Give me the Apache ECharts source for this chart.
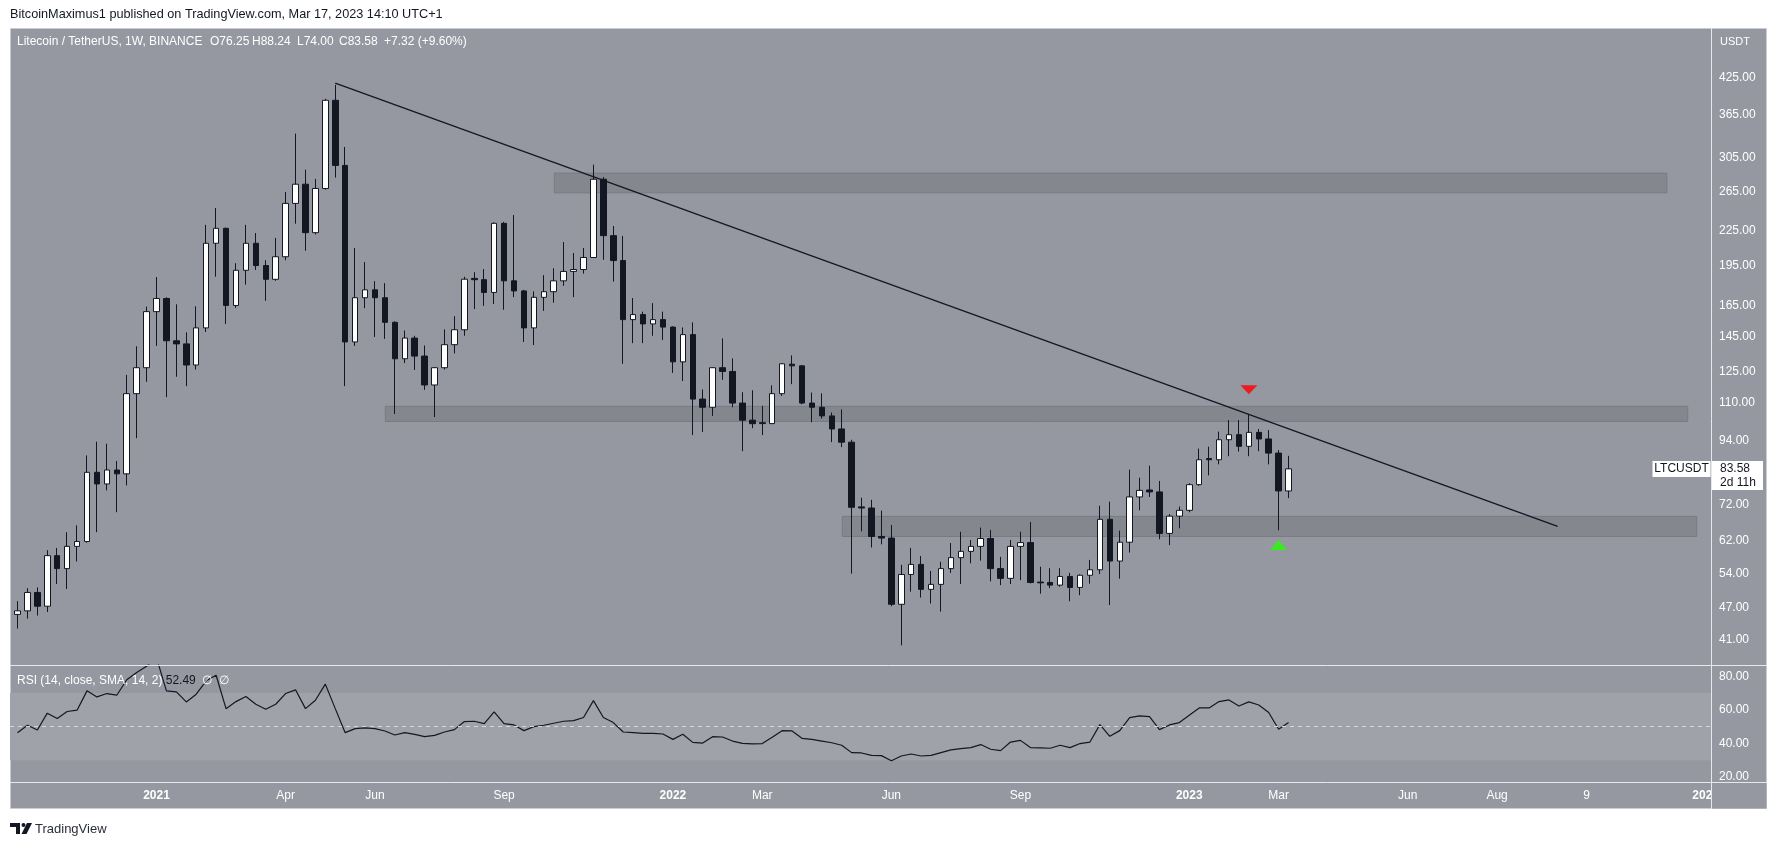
<!DOCTYPE html>
<html>
<head>
<meta charset="utf-8">
<script src="https://cdn.jsdelivr.net/npm/echarts@6/dist/echarts.min.js"></script>
<style>
html,body{margin:0;padding:0;background:#ffffff;}
#c{width:1777px;height:845px;}
</style>
</head>
<body>
<div id="c"></div>
<script>
// ---- Weekly LTC/USDT candles, week index 0 = 28 Sep 2020 ... 128 = 13 Mar 2023 ----
const opens = [45.63,46.31,49.99,47.21,58.26,55.20,60.55,61.80,82.40,78.51,
83.19,81.87,114.28,127.31,160.75,169.79,142.41,140.57,128.75,150.25,
213.62,227.30,164.93,190.92,213.62,194.71,183.88,201.98,252.15,273.10,
223.26,268.30,387.20,295.33,141.72,170.33,176.00,170.33,153.75,132.14,
144.00,133.62,118.49,127.31,140.11,149.08,184.60,183.60,174.11,232.11,
182.72,175.21,150.25,170.60,174.65,182.72,190.02,191.54,201.34,278.80,
220.50,198.80,155.50,158.80,152.75,155.50,150.75,130.44,146.10,111.73,
108.00,127.31,125.35,109.90,102.36,101.30,100.90,114.28,129.20,128.30,
109.90,108.00,104.19,98.68,93.40,71.36,71.03,63.10,62.68,47.59,
53.88,56.18,50.64,51.70,55.20,57.78,59.31,60.55,62.56,55.20,
53.01,60.55,61.51,52.20,52.11,51.54,53.43,51.05,53.70,54.94,
67.77,56.97,61.61,74.38,76.56,75.95,63.91,68.67,70.35,78.27,
87.25,86.82,94.35,96.36,91.81,97.29,94.66,89.25,76.25];
const highs = [48.19,50.89,51.05,59.60,60.17,64.23,66.10,88.39,93.57,92.81,
86.39,123.59,139.19,164.12,185.64,170.60,165.74,147.47,164.39,230.63,
247.33,228.00,196.60,230.63,222.91,199.13,218.44,264.38,337.06,290.14,
279.20,389.60,413.00,318.86,209.50,197.55,182.42,180.96,154.40,148.62,
145.40,139.65,127.60,149.31,157.75,185.86,189.43,191.86,233.00,233.50,
240.24,176.00,174.92,187.10,192.50,214.66,205.14,209.50,296.27,281.20,
229.50,220.20,170.10,160.75,166.55,160.75,151.25,150.50,153.75,116.28,
127.60,143.79,132.35,115.00,115.92,108.67,118.30,129.70,134.00,128.70,
114.82,114.46,105.68,107.00,94.35,74.13,73.50,70.24,66.20,56.09,
60.17,58.17,54.67,56.79,61.41,64.34,62.18,65.48,64.85,57.97,
62.18,64.34,67.03,55.64,55.29,55.29,54.23,53.90,57.24,71.70,
72.94,64.65,83.32,80.56,84.70,79.50,69.23,71.48,78.75,90.95,
91.67,97.60,102.36,102.36,105.02,98.68,98.22,90.39,88.24];
const lows = [43.03,44.84,45.41,46.08,51.78,50.72,56.88,61.50,64.23,76.44,
69.79,78.02,94.96,120.06,139.42,112.64,122.61,117.92,126.33,147.70,
185.93,152.75,163.31,179.80,191.23,168.17,182.72,199.13,231.74,207.09,
221.54,267.00,280.70,117.92,139.42,163.04,144.71,143.56,105.02,129.81,
126.14,116.10,103.69,126.33,135.11,145.40,162.50,164.66,166.01,162.00,
170.74,141.72,139.88,161.25,166.82,178.92,170.74,188.26,200.80,199.40,
182.10,129.40,141.00,141.00,145.40,142.87,124.57,120.45,96.20,97.45,
104.19,121.04,108.00,89.96,99.00,96.20,100.70,113.20,118.90,109.36,
101.50,103.02,93.40,91.52,54.05,64.44,60.27,61.06,47.21,40.12,
50.15,48.94,47.74,46.16,54.23,51.78,56.44,57.06,52.35,51.54,
51.78,52.60,51.90,49.74,50.89,51.21,48.19,49.42,51.86,53.96,
47.44,52.93,59.02,70.35,74.38,62.37,60.86,65.27,69.79,77.90,
81.35,85.16,88.11,89.82,88.11,89.96,85.16,64.75,74.00];
const closes = [46.31,49.99,47.21,58.26,55.20,60.55,61.80,82.40,78.51,83.19,
81.87,114.28,127.31,160.75,169.79,142.41,140.57,128.75,150.25,213.62,
227.30,164.93,190.92,213.62,194.71,183.88,201.98,252.15,273.10,223.26,
268.30,387.20,295.33,141.72,170.33,176.00,170.33,153.75,132.14,144.00,
133.62,118.49,127.31,140.11,149.08,183.96,183.60,174.11,232.11,182.72,
175.21,150.25,170.60,174.65,182.72,190.02,191.54,201.34,278.80,220.50,
198.80,155.50,158.80,152.75,155.50,150.75,130.44,146.10,111.73,108.00,
127.31,125.35,109.90,102.36,100.86,100.90,114.28,129.40,128.30,109.90,
108.00,104.19,98.68,93.40,71.25,71.03,63.10,62.68,47.59,53.88,
56.18,50.64,51.70,55.20,57.78,59.31,60.55,62.56,55.20,53.01,
60.55,61.51,52.11,52.03,51.54,53.43,51.05,53.70,54.94,67.77,
56.97,61.61,74.38,76.44,75.95,63.91,68.67,70.35,78.27,86.82,
86.82,94.35,96.36,91.81,97.29,94.66,89.25,76.26,83.58];
// RSI(14) per week
const rsi = [46.4,50.8,48.0,58.0,54.8,59.0,59.8,71.3,67.7,69.7,
68.7,77.9,82.2,86.0,91.0,71.3,70.7,64.7,69.3,77.3,
80.6,60.7,64.9,67.9,63.3,60.3,63.3,69.7,71.9,60.7,
65.7,75.3,60.7,46.4,48.8,49.2,48.8,47.4,45.0,46.4,
45.4,44.0,44.8,46.8,48.2,53.0,53.2,51.8,58.8,51.8,
51.0,47.6,50.0,50.8,52.0,53.2,53.6,55.4,65.5,55.4,
52.4,46.8,46.4,46.0,46.0,45.6,42.4,45.4,40.6,40.2,
44.0,43.8,41.4,40.0,39.7,39.9,43.6,47.6,47.4,43.0,
42.4,41.4,40.4,38.9,34.5,34.3,32.9,32.7,29.7,32.5,
33.7,32.5,32.9,34.5,36.1,36.9,37.5,39.3,36.5,35.7,
40.8,41.8,37.5,37.3,37.1,38.9,37.5,39.9,40.8,51.2,
44.2,47.6,55.4,56.4,56.0,48.2,51.0,52.4,56.8,61.1,
61.1,64.9,65.9,62.3,64.7,62.9,58.4,48.4,52.49];

// time axis ticks (week index) and labels
const tickIndex  = [14, 27, 36, 49, 66, 75, 88, 101, 118, 127, 140, 149, 158, 170];
const tickLabels = ['2021','Apr','Jun','Sep','2022','Mar','Jun','Sep','2023','Mar','Jun','Aug','9','2024'];
// price axis / rsi axis tick labels
const priceTicks = [425, 365, 305, 265, 225, 195, 165, 145, 125, 110, 94, 72, 62, 54, 47, 41];
const rsiTicks = [80, 60, 40, 20];

// horizontal zones (week index start/end, price low/high)
const zoneStart = [54.06, 37.04, 83.06];
const zoneEnd   = [166.1, 168.2, 169.1];
const zoneLow   = [263.5, 101.8, 63.1];
const zoneHigh  = [286.0, 108.4, 68.6];

// descending trendline
const trendX = [32.0, 155.1];
const trendY = [416, 65.8];

// markers
const redMarkX = 124, redMarkY = 116.1;
const greenMarkX = 127, greenMarkY = 60.9;

const countdown = '2d 11h';

// ---------------------------------------------------------------
const FONT = '"Liberation Sans", Arial, sans-serif';
const BG = '#9598a1', BAND = '#a0a2aa', ZONE = '#85878f', ZONE_EDGE = '#797b84';
const SEP = '#e6e8ec', INK = '#131722';
const N = closes.length;
const X_MIN = -0.755, X_MAX = 170.54;

const candleData = closes.map((c, i) => [i, opens[i], c, lows[i], highs[i]]);
const zoneData = zoneStart.map((s, k) => [s, zoneEnd[k], zoneLow[k], zoneHigh[k]]);
const rsiData = rsi.map((v, i) => [i, v]);
const fmt = v => v.toFixed(2);

const chart = echarts.init(document.getElementById('c'));

const option = {
  animation: false,
  backgroundColor: 'transparent',
  textStyle: { fontFamily: FONT },
  grid: [
    { left: 10, top: 28, width: 1701, height: 637, outerBoundsMode: 'none' },
    { left: 10, top: 665, width: 1701, height: 117, outerBoundsMode: 'none' }
  ],
  xAxis: [
    { gridIndex: 0, type: 'value', min: X_MIN, max: X_MAX, show: false },
    {
      gridIndex: 1, type: 'value', min: X_MIN, max: X_MAX,
      axisLine: { show: false }, axisTick: { show: false }, splitLine: { show: false },
      axisLabel: {
        customValues: tickIndex, margin: 8, color: '#ffffff', fontSize: 12, fontFamily: FONT,
        formatter: v => {
          const k = tickIndex.indexOf(Math.round(v));
          const t = k >= 0 ? tickLabels[k] : '';
          return /^\d{4}$/.test(t) ? '{y|' + t + '}' : t;
        },
        rich: { y: { fontWeight: 'bold', color: '#ffffff', fontSize: 12, fontFamily: FONT } }
      }
    }
  ],
  yAxis: [
    {
      gridIndex: 0, type: 'log', logBase: 10, min: 36.97, max: 523, position: 'right', z: 10,
      axisLine: { show: false }, axisTick: { show: false }, splitLine: { show: false },
      axisLabel: { customValues: priceTicks, formatter: v => (+v).toFixed(2), color: '#ffffff', fontSize: 12, fontFamily: FONT, margin: 8 }
    },
    {
      gridIndex: 1, type: 'value', min: 17, max: 86.7, position: 'right', z: 10,
      axisLine: { show: false }, axisTick: { show: false }, splitLine: { show: false },
      axisLabel: { customValues: rsiTicks, formatter: v => (+v).toFixed(2), color: '#ffffff', fontSize: 12, fontFamily: FONT, margin: 8 }
    }
  ],
  series: [
    {
      type: 'custom', name: 'zones', xAxisIndex: 0, yAxisIndex: 0, z: 1, silent: true,
      data: zoneData,
      encode: { x: [0, 1], y: [2, 3] },
      renderItem: (params, api) => {
        const p1 = api.coord([api.value(0), api.value(3)]);
        const p2 = api.coord([api.value(1), api.value(2)]);
        return {
          type: 'rect',
          shape: { x: p1[0], y: p1[1], width: p2[0] - p1[0], height: p2[1] - p1[1] },
          style: { fill: ZONE, stroke: ZONE_EDGE, lineWidth: 1 }
        };
      }
    },
    {
      type: 'candlestick', name: 'LTCUSDT', xAxisIndex: 0, yAxisIndex: 0, z: 3,
      data: candleData,
      barWidth: 6,
      itemStyle: { color: '#ffffff', color0: INK, borderColor: INK, borderColor0: INK, borderWidth: 1 }
    },
    {
      type: 'line', name: 'trend', xAxisIndex: 0, yAxisIndex: 0, z: 4, silent: true,
      data: trendX.map((x, k) => [x, trendY[k]]),
      symbol: 'none', lineStyle: { color: INK, width: 1.3 }
    },
    {
      type: 'scatter', name: 'top', xAxisIndex: 0, yAxisIndex: 0, z: 5, silent: true,
      data: [[redMarkX, redMarkY]], symbol: 'triangle', symbolRotate: 180, symbolSize: [17, 9],
      itemStyle: { color: '#ff0000' }
    },
    {
      type: 'scatter', name: 'bottom', xAxisIndex: 0, yAxisIndex: 0, z: 5, silent: true,
      data: [[greenMarkX, greenMarkY]], symbol: 'triangle', symbolSize: [17, 10],
      itemStyle: { color: '#22ff00' }
    },
    {
      type: 'line', name: 'RSI', xAxisIndex: 1, yAxisIndex: 1, z: 4,
      data: rsiData, symbol: 'none', lineStyle: { color: INK, width: 1.2 },
      markArea: { silent: true, itemStyle: { color: BAND }, data: [[{ yAxis: 30 }, { yAxis: 70 }]] },
      markLine: {
        silent: true, symbol: 'none', label: { show: false },
        lineStyle: { color: '#d4d6db', type: [4, 4], width: 1 },
        data: [{ yAxis: 50 }]
      }
    }
  ]
};
chart.setOption(option);

// labels positioned from the library's own price scale
const yLast = chart.convertToPixel({ yAxisIndex: 0 }, closes[N - 1]);
const chg = closes[N - 1] - closes[N - 2];
const pct = chg / closes[N - 2] * 100;
const sgn = v => (v >= 0 ? '+' : '');

const legendItems = [
  'Litecoin / TetherUS, 1W, BINANCE',
  'O' + fmt(opens[N - 1]),
  'H' + fmt(highs[N - 1]),
  'L' + fmt(lows[N - 1]),
  'C' + fmt(closes[N - 1]),
  sgn(chg) + fmt(chg) + ' (' + sgn(pct) + fmt(pct) + '%)'
];
const legendX = [17, 210, 252, 297, 339, 384];
const legendEls = legendItems.map((t, k) => ({
  type: 'text', id: 'lg' + k, z: 100, silent: true, x: legendX[k], y: 42,
  style: { text: t, fill: '#ffffff', font: '12px ' + FONT, align: 'left', verticalAlign: 'middle' }
}));

chart.setOption({
  graphic: [
    { type: 'rect', id: 'panel', z: -10, silent: true,
      shape: { x: 10.5, y: 28.5, width: 1756, height: 780 },
      style: { fill: BG, stroke: '#c9ccd3', lineWidth: 1 } },
    { type: 'line', id: 'sep1', z: 50, silent: true, shape: { x1: 10, y1: 665.5, x2: 1767, y2: 665.5 }, style: { stroke: SEP, lineWidth: 1 } },
    { type: 'line', id: 'sep2', z: 50, silent: true, shape: { x1: 10, y1: 782.5, x2: 1767, y2: 782.5 }, style: { stroke: SEP, lineWidth: 1 } },
    { type: 'line', id: 'sep3', z: 50, silent: true, shape: { x1: 1711.5, y1: 28, x2: 1711.5, y2: 809 }, style: { stroke: SEP, lineWidth: 1 } },
    { type: 'rect', id: 'corner', z: 60, silent: true, shape: { x: 1712, y: 783, width: 54.5, height: 25.5 }, style: { fill: BG } },
    { type: 'text', id: 'hdr', z: 100, silent: true, x: 10, y: 14,
      style: { text: 'BitcoinMaximus1 published on TradingView.com, Mar 17, 2023 14:10 UTC+1', fill: '#131722',
        font: '12.7px ' + FONT, align: 'left', verticalAlign: 'middle' } },
    ...legendEls,
    { type: 'text', id: 'usdt', z: 100, silent: true, x: 1720, y: 42,
      style: { text: 'USDT', fill: '#ffffff', font: '11px ' + FONT, align: 'left', verticalAlign: 'middle' } },
    { type: 'text', id: 'rsiLegend', z: 100, silent: true, x: 17, y: 681,
      style: { text: '{w|RSI (14, close, SMA, 14, 2)} {k|' + fmt(rsi[N - 1]) + '}  {w|\u2205  \u2205}',
        fill: '#ffffff', font: '12px ' + FONT, align: 'left', verticalAlign: 'middle',
        rich: { w: { fill: '#ffffff', font: '12px ' + FONT }, k: { fill: INK, font: '12px ' + FONT } } } },
    // last price labels
    { type: 'rect', id: 'symBox', z: 100, silent: true, shape: { x: 1652.5, y: yLast - 8, width: 58, height: 16 }, style: { fill: '#ffffff' } },
    { type: 'text', id: 'symTxt', z: 101, silent: true, x: 1681.5, y: yLast,
      style: { text: 'LTCUSDT', fill: INK, font: '12px ' + FONT, align: 'center', verticalAlign: 'middle' } },
    { type: 'rect', id: 'pxBox', z: 100, silent: true, shape: { x: 1712, y: yLast - 8, width: 51, height: 29 }, style: { fill: '#ffffff' } },
    { type: 'text', id: 'pxTxt', z: 101, silent: true, x: 1720, y: yLast,
      style: { text: fmt(closes[N - 1]), fill: INK, font: '12px ' + FONT, align: 'left', verticalAlign: 'middle' } },
    { type: 'text', id: 'cdTxt', z: 101, silent: true, x: 1720, y: yLast + 14,
      style: { text: countdown, fill: INK, font: '12px ' + FONT, align: 'left', verticalAlign: 'middle' } },
    // TradingView logo
    { type: 'polygon', id: 'logo1', z: 100, silent: true,
      shape: { points: [[10, 823], [20, 823], [20, 834], [16, 834], [16, 827], [10, 827]] }, style: { fill: '#131722' } },
    { type: 'circle', id: 'logo2', z: 100, silent: true, shape: { cx: 23.5, cy: 825, r: 2 }, style: { fill: '#131722' } },
    { type: 'polygon', id: 'logo3', z: 100, silent: true,
      shape: { points: [[27, 823], [32, 823], [26.5, 834], [21.5, 834]] }, style: { fill: '#131722' } },
    { type: 'text', id: 'logoTxt', z: 100, silent: true, x: 35, y: 829,
      style: { text: 'TradingView', fill: '#2a2e39', font: '13px ' + FONT, align: 'left', verticalAlign: 'middle' } }
  ]
});
</script>
</body>
</html>
